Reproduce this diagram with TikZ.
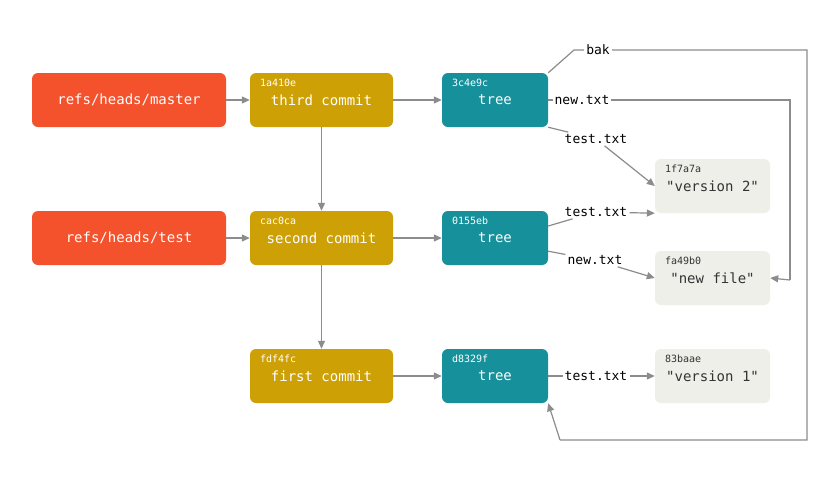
\documentclass[tikz,border=0pt]{standalone}
\usepackage{fontspec}
\setmonofont{DejaVu Sans Mono}
\usetikzlibrary{positioning,arrows.meta}
\definecolor{refred}{HTML}{F4522D}
\definecolor{commitgold}{HTML}{CDA005}
\definecolor{treeteal}{HTML}{16909A}
\definecolor{blobgray}{HTML}{EFEFE9}
\definecolor{linegray}{HTML}{8C8C8C}
\tikzset{
  box/.style={rounded corners=6pt, minimum height=54pt, font=\ttfamily\fontsize{14}{16}\selectfont, inner sep=0pt},
  refbox/.style={box, fill=refred, text=white, minimum width=194pt},
  commitbox/.style={box, fill=commitgold, text=white, minimum width=143pt},
  treebox/.style={box, fill=treeteal, text=white, minimum width=106pt},
  blobbox/.style={box, fill=blobgray, text=black!80, minimum width=115pt},
  hash/.style={font=\ttfamily\fontsize{10}{12}\selectfont, anchor=north west, inner sep=0pt, xshift=10pt, yshift=-6pt},
  lbl/.style={fill=white, font=\ttfamily\fontsize{13}{15}\selectfont, inner sep=2pt},
  link/.style={draw=linegray, line width=1.2pt, -{Triangle[length=8pt,width=7pt]}},
  line/.style={draw=linegray, line width=1.2pt}
}
\begin{document}
\begin{tikzpicture}[x=1pt,y=-1pt]
\useasboundingbox[fill=white] (0,0) rectangle (840,483);

% refs
\node[refbox] (master) at (129,100) {refs/heads/master};
\node[refbox] (test) at (129,238) {refs/heads/test};

% commits
\node[commitbox] (c3) at (321.5,100) {\raisebox{-6pt}{third commit}};
\node[commitbox] (c2) at (321.5,238) {\raisebox{-6pt}{second commit}};
\node[commitbox] (c1) at (321.5,376) {\raisebox{-6pt}{first commit}};
\node[hash,text=white] at (c3.north west) {1a410e};
\node[hash,text=white] at (c2.north west) {cac0ca};
\node[hash,text=white] at (c1.north west) {fdf4fc};

% trees
\node[treebox] (t3) at (495,100) {\raisebox{-6pt}{tree}};
\node[treebox] (t2) at (495,238) {\raisebox{-6pt}{tree}};
\node[treebox] (t1) at (495,376) {\raisebox{-6pt}{tree}};
\node[hash,text=white] at (t3.north west) {3c4e9c};
\node[hash,text=white] at (t2.north west) {0155eb};
\node[hash,text=white] at (t1.north west) {d8329f};

% blobs
\node[blobbox] (v2) at (712.5,186) {\raisebox{-6pt}{"version 2"}};
\node[blobbox] (nf) at (712.5,278) {\raisebox{-6pt}{"new file"}};
\node[blobbox] (v1) at (712.5,376) {\raisebox{-6pt}{"version 1"}};
\node[hash,text=black!80] at (v2.north west) {1f7a7a};
\node[hash,text=black!80] at (nf.north west) {fa49b0};
\node[hash,text=black!80] at (v1.north west) {83baae};

% ref and commit links
\draw[link] (master) -- (c3);
\draw[link] (test) -- (c2);
\draw[link] (c3) -- (c2);
\draw[link] (c2) -- (c1);
\draw[link] (c3) -- (t3);
\draw[link] (c2) -- (t2);
\draw[link] (c1) -- (t1);

% tree entries
\coordinate (bakup) at (574,50);
\coordinate (bakr) at (807,50);
\coordinate (bakd) at (807,440);
\coordinate (bakl) at (560,440);
\coordinate (ntr) at (790,100);
\coordinate (ntd) at (790,280);
\draw[line] (t3.north east) -- (bakup) -- (bakr) -- (bakd) -- (bakl);
\draw[link] (bakl) -- (t1.south east);
\node[lbl] (bak) at (598,50) {bak};
\draw[line] (t3.east) -- (ntr) -- (ntd);
\draw[link] (ntd) -- (nf.east);
\node[lbl] (new3) at (582,100) {new.txt};
\node[lbl] (test3) at (596,139) {test.txt};
\draw[line] (t3.south east) -- (test3);
\draw[link] (test3) -- (v2.west);
\node[lbl] (test2) at (596,212) {test.txt};
\draw[line] (t2.east) ++(0,-12) -- (test2);
\draw[link] (test2) -- (v2.south west);
\node[lbl] (new2) at (595,260) {new.txt};
\draw[line] (t2.south east) ++(0,-14) -- (new2);
\draw[link] (new2) -- (nf.west);
\node[lbl] (test1) at (596,376) {test.txt};
\draw[line] (t1) -- (test1);
\draw[link] (test1) -- (v1);
\end{tikzpicture}
\end{document}
